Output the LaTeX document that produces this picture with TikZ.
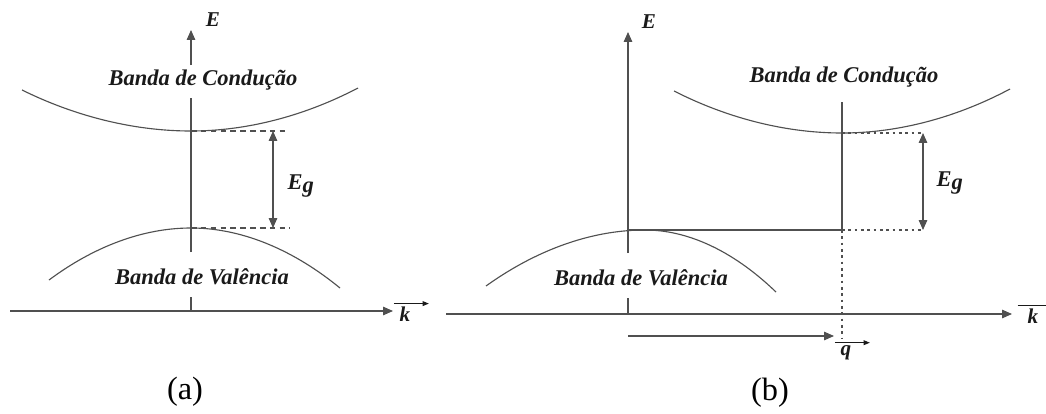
\documentclass[tikz,border=0pt]{standalone}
\usepackage{fontspec}
\setmainfont{Liberation Serif}
\usetikzlibrary{arrows.meta,positioning}
\definecolor{bandLine}{HTML}{505050}
\definecolor{bandInk}{HTML}{1A1A1A}
\tikzset{
    >={Triangle[length=7pt,width=6pt]},
    axis/.style={->, line width=0.8pt, draw=bandLine},
    band/.style={line width=0.8pt, draw=bandLine},
    gaparrow/.style={<->, line width=0.8pt, draw=bandLine},
    vecmark/.style={-{Triangle[length=4.5pt,width=3.5pt]}, line width=0.7pt, draw=bandInk},
    guide/.style={line width=0.8pt, draw=bandLine, dash pattern=on 4pt off 3pt},
    dotguide/.style={line width=0.8pt, draw=bandLine, dash pattern=on 2pt off 2.5pt},
    bandlabel/.style={font=\fontsize{16}{18}\selectfont\bfseries\itshape, text=bandInk, inner sep=1pt},
    axlabel/.style={font=\fontsize{15}{17}\selectfont\bfseries\itshape, text=bandInk, inner sep=1pt},
    caption/.style={font=\fontsize{23}{26}\selectfont, text=black}
}

\begin{document}
\begin{tikzpicture}[x=0.025cm, y=-0.025cm]
\useasboundingbox (0,0) rectangle (1046,414);

% (a) direct gap
\coordinate (aL) at (10,311);
\coordinate (aR) at (393,311);
\coordinate (aO) at (191,311);
\coordinate (aTick) at (191,297);
\coordinate (aE0) at (191,252);
\coordinate (aE1) at (191,98);
\coordinate (aE2) at (191,65);
\coordinate (aEtop) at (191,30);
\coordinate (aCmin) at (191,131);
\coordinate (aVmax) at (191,228);
\coordinate (aCend) at (285,131);
\coordinate (aVend) at (290,228);
\coordinate (aGtop) at (273,131);
\coordinate (aGbot) at (273,228);

\draw[axis] (aL) -- (aR);
\draw[band] (aTick) -- (aO) (aE0) -- (aE1);
\draw[axis] (aE2) -- (aEtop);
\draw[band] (22,90) parabola bend (aCmin) (358,88);
\draw[band] (49,280) parabola bend (aVmax) (340,288);
\draw[guide] (aCmin) -- (aCend);
\draw[guide] (aVmax) -- (aVend);
\draw[gaparrow] (aGtop) -- (aGbot);

\node[axlabel] (aElab) at (213,20) {E};
\node[axlabel] (aklab) at (405,314) {k};
\draw[vecmark] ([xshift=-3pt,yshift=1pt]aklab.north west) -- ([xshift=12pt,yshift=1pt]aklab.north east);
\node[axlabel, font=\fontsize{16}{18}\selectfont\bfseries\itshape] (aEg) at (301,186) {E$_{\mbox{g}}$};
\node[bandlabel] (aCond) at (203,80) {Banda de Condução};
\node[bandlabel] (aVal) at (202,277) {Banda de Valência};
\node[caption] (acap) at (185,392) {(a)};

% (b) indirect gap
\coordinate (bL) at (446,314);
\coordinate (bR) at (1012,314);
\coordinate (bO) at (628,314);
\coordinate (bTick) at (628,298);
\coordinate (bE0) at (628,253);
\coordinate (bEtop) at (628,32);
\coordinate (bCmin) at (842,133);
\coordinate (bVmax) at (645,230);
\coordinate (bLev) at (628,230);
\coordinate (bCtop) at (842,102);
\coordinate (bCfoot) at (842,230);
\coordinate (bDrop) at (842,338);
\coordinate (bCend) at (923,133);
\coordinate (bVend) at (923,230);
\coordinate (bQ0) at (628,336);
\coordinate (bQ1) at (834,336);

\draw[axis] (bL) -- (bR);
\draw[band] (bTick) -- (bO);
\draw[axis] (bE0) -- (bEtop);
\draw[band] (674,91) parabola bend (bCmin) (1010,89);
\draw[band] (486,286) parabola bend (bVmax) (776,292);
\draw[band] (bLev) -- (bCfoot) -- (bCtop);
\draw[dotguide] (bCmin) -- (bCend);
\draw[dotguide] (bCfoot) -- (bVend);
\draw[dotguide] (bCfoot) -- (bDrop);
\draw[gaparrow] (bCend) -- (bVend);
\draw[axis] (bQ0) -- (bQ1);

\node[axlabel] (bElab) at (649,22) {E};
\node[axlabel] (bklab) at (1033,316) {k};
\draw[vecmark] ([xshift=-6pt,yshift=1pt]bklab.north west) -- ([xshift=12pt,yshift=1pt]bklab.north east);
\node[axlabel] (bqlab) at (846,353) {q};
\draw[vecmark] ([xshift=-3pt,yshift=1pt]bqlab.north west) -- ([xshift=12pt,yshift=1pt]bqlab.north east);
\node[axlabel, font=\fontsize{16}{18}\selectfont\bfseries\itshape] (bEg) at (950,183) {E$_{\mbox{g}}$};
\node[bandlabel] (bCond) at (844,77) {Banda de Condução};
\node[bandlabel] (bVal) at (641,278) {Banda de Valência};
\node[caption] (bcap) at (770,393) {(b)};
\end{tikzpicture}
\end{document}
